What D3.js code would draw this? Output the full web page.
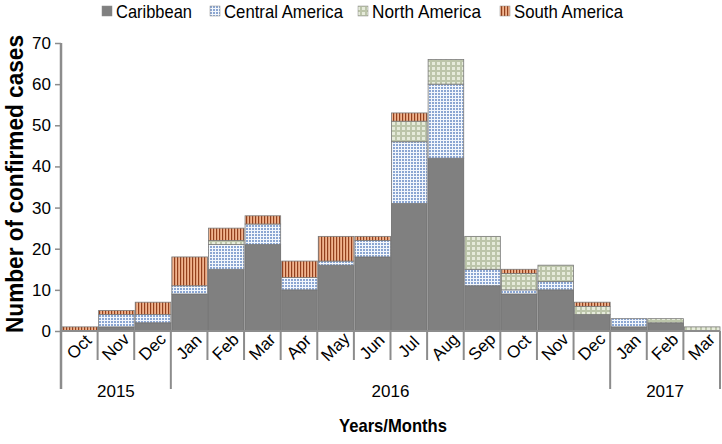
<!DOCTYPE html>
<html><head><meta charset="utf-8">
<script src="https://cdn.jsdelivr.net/npm/d3@7"></script>
<style>
html,body{margin:0;padding:0;background:#fff;}
svg{display:block;}
text{font-family:"Liberation Sans",Arial,sans-serif;fill:#000;}
</style></head>
<body>
<svg id="chart" width="722" height="444"></svg>
<script>
const months = ["Oct","Nov","Dec","Jan","Feb","Mar","Apr","May","Jun","Jul","Aug","Sep","Oct","Nov","Dec","Jan","Feb","Mar"];
const yearLabels = ["2015","2016","2017"];
const yearMonthCounts = [3,12,3];
const seriesNames = ["Caribbean","Central America","North America","South America"];
const caribbean = [0,1,2,9,15,21,10,16,18,31,42,11,9,10,4,1,2,0];
const centralAmerica = [0,3,2,2,6,5,3,1,4,15,18,4,1,2,0,2,0,0];
const northAmerica = [0,0,0,0,1,0,0,0,0,5,6,8,4,4,2,0,1,1];
const southAmerica = [1,1,3,7,3,2,4,6,1,2,0,0,1,0,1,0,0,0];
const yTicks = [0,10,20,30,40,50,60,70];

(function(){
const svg = d3.select("#chart");
const pLeft = 61, pRight = 720, pTop = 43, pBottom = 331;
const FONT = "\"Liberation Sans\",Arial,sans-serif";

// patterns
const defs = svg.append("defs");
const pC = defs.append("pattern").attr("id","pCentral").attr("patternUnits","userSpaceOnUse").attr("width",3).attr("height",3);
pC.append("rect").attr("width",3).attr("height",3).attr("fill","#f3f7fc");
pC.append("rect").attr("width",2).attr("height",2).attr("fill","#8ba6d2");
const pN = defs.append("pattern").attr("id","pNorth").attr("patternUnits","userSpaceOnUse").attr("width",5).attr("height",5);
pN.append("rect").attr("width",5).attr("height",5).attr("fill","#e6ebdb");
pN.append("rect").attr("width",5).attr("height",2).attr("fill","#bcc5aa");
pN.append("rect").attr("width",2).attr("height",5).attr("fill","#bcc5aa");
const pS = defs.append("pattern").attr("id","pSouth").attr("patternUnits","userSpaceOnUse").attr("width",3).attr("height",3);
pS.append("rect").attr("width",3).attr("height",3).attr("fill","#f1b48f");
pS.append("rect").attr("width",1.2).attr("height",3).attr("fill","#93401d");
const fills = ["#808080","url(#pCentral)","url(#pNorth)","url(#pSouth)"];

const idx = months.map((m,i)=>i);
const x = d3.scaleBand().domain(idx).range([pLeft,pRight]).padding(0);
const y = d3.scaleLinear().domain([0,70]).range([pBottom,pTop]);

const rows = idx.map(i=>({i, s0:caribbean[i], s1:centralAmerica[i], s2:northAmerica[i], s3:southAmerica[i]}));
const stack = d3.stack().keys(["s0","s1","s2","s3"])(rows);

const g = svg.append("g");
stack.forEach((layer,k)=>{
  g.selectAll(null).data(layer.filter(d=>d[1]-d[0]>0)).join("rect")
    .attr("x",d=>x(d.data.i)+1)
    .attr("width",x.bandwidth()-1)
    .attr("y",d=>y(d[1]))
    .attr("height",d=>y(d[0])-y(d[1]))
    .attr("fill",fills[k])
    .attr("stroke",k===0?"#6a6a6a":"#7a7a7a")
    .attr("stroke-width",0.8);
});

// y axis
const axisColor = "#8c8c8c";
const yAxis = svg.append("g").attr("transform",`translate(${pLeft},0)`)
  .call(d3.axisLeft(y).tickValues(yTicks).tickSize(6).tickPadding(4));
yAxis.select(".domain").remove();
yAxis.selectAll(".tick line").attr("stroke",axisColor).attr("stroke-width",1.5);
yAxis.selectAll(".tick text").attr("font-size",17).attr("fill","#000").style("font-family",FONT);

// axis lines
const monthTickBottom = 360, yearLineBottom = 389;
svg.append("line").attr("x1",pLeft).attr("x2",pLeft).attr("y1",y(70)).attr("y2",yearLineBottom)
  .attr("stroke",axisColor).attr("stroke-width",2.5);
svg.append("line").attr("x1",pLeft).attr("x2",pRight).attr("y1",y(0)).attr("y2",y(0))
  .attr("stroke",axisColor).attr("stroke-width",2);

// boundaries
const yearBounds = [0];
yearMonthCounts.reduce((a,c)=>{yearBounds.push(a+c);return a+c;},0);
for(let b=1;b<=months.length;b++){
  const isYear = yearBounds.includes(b);
  const bx = b===months.length ? pRight : x(b);
  svg.append("line").attr("x1",bx).attr("x2",bx).attr("y1",y(0)).attr("y2",isYear?yearLineBottom:monthTickBottom)
    .attr("stroke",axisColor).attr("stroke-width",2);
}

// month labels
svg.append("g").selectAll("text").data(idx).join("text")
  .attr("transform",i=>`translate(${x(i)+x.bandwidth()/2},${347}) rotate(-45)`)
  .attr("text-anchor","middle").attr("dominant-baseline","central")
  .attr("font-size",17).text(i=>months[i]);

// year labels
svg.append("g").selectAll("text").data(yearLabels).join("text")
  .attr("x",(d,k)=>{const a=x(yearBounds[k]); const bEnd=yearBounds[k+1]; const b = bEnd===months.length?pRight:x(bEnd); return (a+b)/2;})
  .attr("y",397).attr("text-anchor","middle").attr("font-size",17).text(d=>d);

// axis titles
svg.append("text").attr("x",393).attr("y",432).attr("text-anchor","middle")
  .attr("font-size",19).attr("font-weight","bold")
  .attr("textLength",108).attr("lengthAdjust","spacingAndGlyphs").text("Years/Months");
svg.append("text").attr("transform","translate(23,184) rotate(-90)").attr("text-anchor","middle")
  .attr("font-size",24).attr("font-weight","bold")
  .attr("textLength",298).attr("lengthAdjust","spacingAndGlyphs").text("Number of confirmed cases");

// legend
const legendX = [102,210,358,500];
const legendW = [76,119,109,109];
const lg = svg.append("g");
seriesNames.forEach((n,k)=>{
  lg.append("rect").attr("x",legendX[k]).attr("y",6).attr("width",10).attr("height",10)
    .attr("fill",fills[k]).attr("stroke","#8a8a8a").attr("stroke-width",0.5);
  lg.append("text").attr("x",legendX[k]+14).attr("y",18).attr("font-size",19)
    .attr("textLength",legendW[k]).attr("lengthAdjust","spacingAndGlyphs").text(n);
});
})();
</script>
</body></html>
